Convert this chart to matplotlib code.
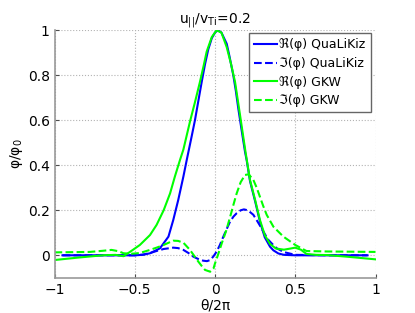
import matplotlib.pyplot as plt

# Re(phi) QuaLiKiz
x_re_qlk = [-0.95, -0.7, -0.5, -0.45, -0.405, -0.343, -0.29, -0.26, -0.229, -0.197, -0.176,
            -0.145, -0.125, -0.104, -0.083, -0.062, -0.042, -0.02, 0.0, 0.017, 0.04, 0.073,
            0.09, 0.114, 0.13, 0.145, 0.165, 0.187, 0.198, 0.218, 0.25, 0.28, 0.31, 0.343,
            0.364, 0.395, 0.43, 0.5, 0.7, 0.95]
y_re_qlk = [0.0, 0.0, 0.0, 0.002, 0.009, 0.031, 0.083, 0.157, 0.246, 0.35, 0.424,
            0.53, 0.6, 0.685, 0.77, 0.85, 0.915, 0.965, 0.99, 1.0, 0.99, 0.94,
            0.885, 0.80, 0.73, 0.653, 0.56, 0.46, 0.42, 0.33, 0.24, 0.15, 0.08, 0.038,
            0.022, 0.008, 0.002, 0.0, 0.0, 0.0]

# Im(phi) QuaLiKiz
x_im_qlk = [-0.95, -0.7, -0.5, -0.45, -0.405, -0.36, -0.32, -0.26, -0.23, -0.197, -0.165,
            -0.135, -0.1, -0.073, -0.05, -0.03, -0.01, 0.01, 0.03, 0.052, 0.075, 0.094,
            0.115, 0.135, 0.16, 0.18, 0.205, 0.239, 0.265, 0.29, 0.31, 0.333, 0.36, 0.385,
            0.43, 0.5, 0.7, 0.95]
y_im_qlk = [0.0, 0.0, 0.0, 0.003, 0.01, 0.02, 0.028, 0.034, 0.032, 0.024, 0.01,
            -0.006, -0.018, -0.024, -0.026, -0.021, -0.005, 0.016, 0.045, 0.083, 0.12, 0.15,
            0.172, 0.187, 0.2, 0.204, 0.2, 0.18, 0.15, 0.12, 0.095, 0.068, 0.048, 0.031,
            0.014, 0.002, 0.0, 0.0]

# Re(phi) GKW
x_re_gkw = [-1.0, -0.85, -0.7, -0.62, -0.57, -0.53, -0.468, -0.405, -0.364, -0.32, -0.28,
            -0.25, -0.218, -0.197, -0.156, -0.125, -0.094, -0.07, -0.052, -0.02, 0.01, 0.04,
            0.073, 0.1, 0.125, 0.156, 0.19, 0.218, 0.25, 0.28, 0.31, 0.343, 0.38, 0.43,
            0.47, 0.5, 0.535, 0.57, 0.63, 0.7, 0.82, 1.0]
y_re_gkw = [-0.021, -0.01, 0.0, 0.002, -0.004, 0.015, 0.046, 0.09, 0.135, 0.2, 0.275,
            0.35, 0.424, 0.47, 0.594, 0.68, 0.77, 0.845, 0.905, 0.97, 1.0, 0.99,
            0.925, 0.85, 0.77, 0.623, 0.46, 0.335, 0.246, 0.157, 0.09, 0.05, 0.03, 0.025,
            0.03, 0.034, 0.025, 0.006, 0.002, 0.001, -0.006, -0.018]

# Im(phi) GKW
x_im_gkw = [-1.0, -0.78, -0.7, -0.645, -0.6, -0.57, -0.52, -0.47, -0.405, -0.36, -0.32,
            -0.26, -0.23, -0.197, -0.156, -0.13, -0.104, -0.08, -0.062, -0.03, -0.01, 0.0,
            0.02, 0.042, 0.07, 0.094, 0.115, 0.135, 0.16, 0.187, 0.21, 0.239, 0.26, 0.28,
            0.3, 0.322, 0.364, 0.426, 0.5, 0.57, 0.7, 1.0]
y_im_gkw = [0.013, 0.015, 0.02, 0.024, 0.018, 0.009, 0.007, 0.01, 0.024, 0.035, 0.046,
            0.065, 0.064, 0.056, 0.024, -0.002, -0.028, -0.05, -0.065, -0.073, -0.06, -0.036,
            0.005, 0.053, 0.11, 0.17, 0.225, 0.275, 0.325, 0.357, 0.36, 0.335, 0.3, 0.26,
            0.22, 0.18, 0.127, 0.083, 0.046, 0.019, 0.017, 0.015]

xticks = [-1, -0.5, 0, 0.5, 1]
yticks = [0, 0.2, 0.4, 0.6, 0.8, 1]

fig = plt.figure(figsize=(4.15, 3.13), dpi=100)
ax = fig.add_axes([54.5 / 415, 1 - 277.8 / 313, 321 / 415, 247.5 / 313])

ax.plot(x_re_qlk, y_re_qlk, color='#0000ff', lw=1.5, label='ℜ(φ) QuaLiKiz')
ax.plot(x_im_qlk, y_im_qlk, color='#0000ff', lw=1.5, ls='--', label='ℑ(φ) QuaLiKiz')
ax.plot(x_re_gkw, y_re_gkw, color='#00ff00', lw=1.5, label='ℜ(φ) GKW')
ax.plot(x_im_gkw, y_im_gkw, color='#00ff00', lw=1.5, ls='--', label='ℑ(φ) GKW')

ax.set_xlim(-1, 1)
ax.set_ylim(-0.1, 1)
ax.set_xticks(xticks)
ax.set_xticklabels(['\u22121', '\u22120.5', '0', '0.5', '1'])
ax.set_yticks(yticks)
ax.set_yticklabels(['0', '0.2', '0.4', '0.6', '0.8', '1'])
ax.tick_params(direction='in', length=3, labelsize=10, color='0.3')
ax.grid(True, linestyle=':', color='0.7', lw=0.8)

for side in ['top', 'right']:
    ax.spines[side].set_visible(False)
for side in ['left', 'bottom']:
    ax.spines[side].set_color('0.6')
    ax.spines[side].set_linewidth(1.2)

ax.set_title(r'u$_{||}$/v$_{\mathrm{Ti}}$=0.2', fontsize=10, pad=5)
ax.set_xlabel('θ/2π', fontsize=10, labelpad=1)
ax.set_ylabel(r'φ/φ$_0$', fontsize=10, labelpad=2)

leg = ax.legend(loc='upper right', bbox_to_anchor=(0.985, 0.988), fontsize=9,
                fancybox=False, framealpha=1, edgecolor='0.4', handlelength=1.8,
                handletextpad=0.2, borderaxespad=0.0, labelspacing=0.45, borderpad=0.4)
leg.get_frame().set_linewidth(1.0)

fig.savefig('out.png', dpi=100)
